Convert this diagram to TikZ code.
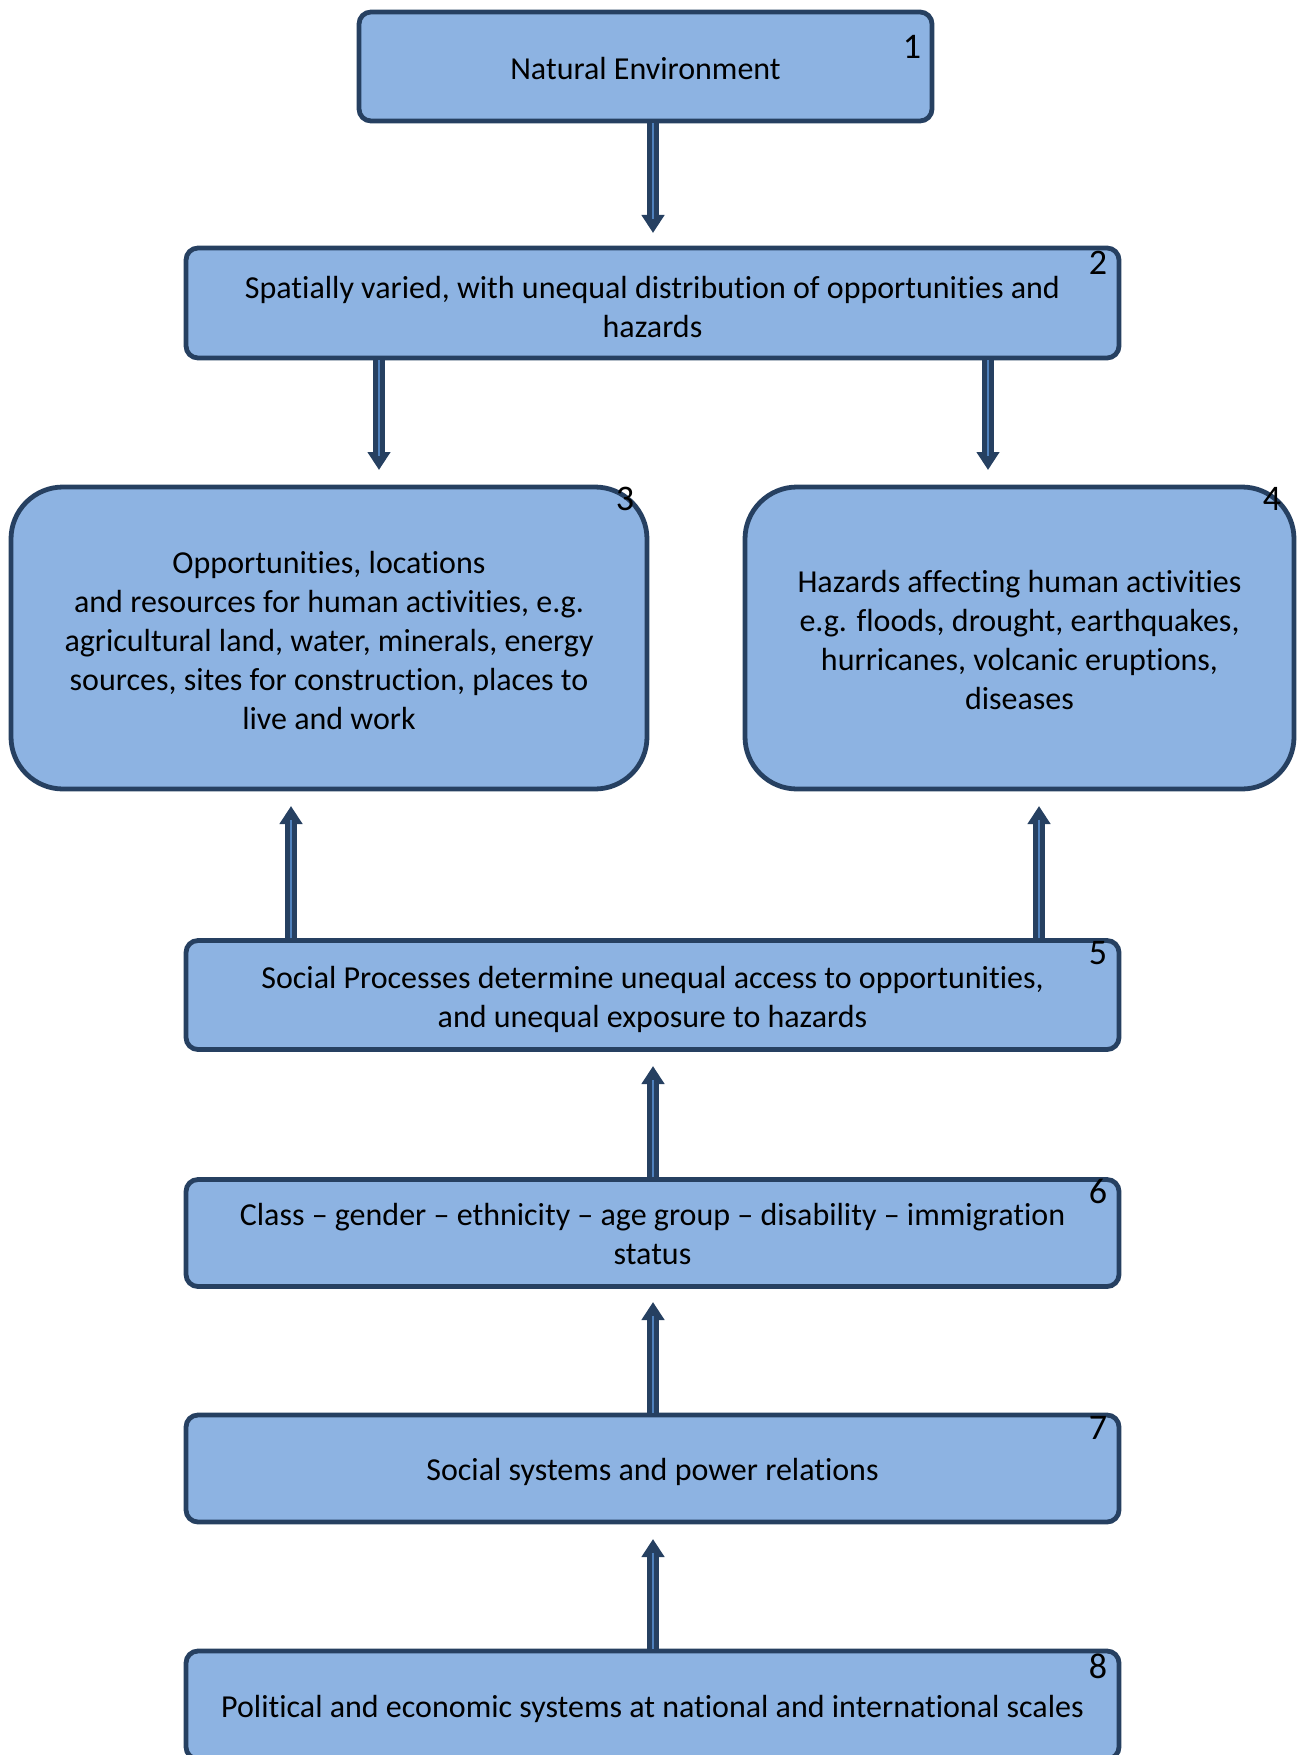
\documentclass[tikz,border=0pt]{standalone}
\usepackage{fontspec}
\setmainfont{Carlito}[RawFeature={-liga;-clig;-calt;-dlig}]
\usetikzlibrary{arrows.meta,calc}
\definecolor{boxfill}{RGB}{141,179,226}
\definecolor{boxline}{RGB}{38,64,97}
\definecolor{inner}{RGB}{79,129,189}
\begin{document}
\begin{tikzpicture}[x=0.5pt,y=-0.5pt,
  box/.style={draw=boxline, line width=2.4pt, fill=boxfill, rounded corners=6pt, inner sep=0pt},
  bigbox/.style={box, rounded corners=26pt},
  txt/.style={align=center, font=\fontsize{16}{19.5}\selectfont, inner sep=0pt},
  num/.style={font=\fontsize{18}{20}\selectfont, inner sep=0pt},
  arr/.style={draw=boxline, line width=6pt, -{Triangle[width=11pt,length=9pt]}},
  innerline/.style={draw=inner, line width=0.7pt}]
\useasboundingbox (0,0) rectangle (1303,1755);
\clip (0,0) rectangle (1303,1755);

\node[box, minimum width=286.5pt, minimum height=54.5pt] (b1) at (645.5,66.5) {};
\node[box, minimum width=466.5pt, minimum height=55pt] (b2) at (652.5,303) {};
\node[bigbox, minimum width=318pt, minimum height=151pt] (b3) at (329,638) {};
\node[bigbox, minimum width=274.5pt, minimum height=151pt] (b4) at (1019.5,638) {};
\node[box, minimum width=466.5pt, minimum height=54.5pt] (b5) at (652.5,995) {};
\node[box, minimum width=466.5pt, minimum height=53.5pt] (b6) at (652.5,1233) {};
\node[box, minimum width=466.5pt, minimum height=53.5pt] (b7) at (652.5,1468.5) {};
\node[box, minimum width=466.5pt, minimum height=54pt] (b8) at (652.5,1705) {};

\node[txt] (l1) at ($(b1)+(0,2)$) {Natural Environment};
\node[txt] (l2) at ($(b2)+(0,4)$) {Spatially varied, with unequal distribution of opportunities and\\hazards};
\node[txt] (l3) at ($(b3)+(0,3)$) {Opportunities, locations\\and resources for human activities, e.g.\\agricultural land, water, minerals, energy\\sources, sites for construction, places to\\live and work};
\node[txt] (l4) at ($(b4)+(0,2)$) {Hazards affecting human activities\\e.g. floods, drought, earthquakes,\\hurricanes, volcanic eruptions,\\diseases};
\node[txt] (l5) at ($(b5)+(0,4)$) {Social Processes determine unequal access to opportunities,\\and unequal exposure to hazards};
\node[txt] (l6) at ($(b6)+(0,1)$) {Class -- gender -- ethnicity -- age group -- disability -- immigration\\status};
\node[txt] (l7) at ($(b7)+(0,3)$) {Social systems and power relations};
\node[txt] (l8) at ($(b8)+(0,4)$) {Political and economic systems at national and international scales};

\node[num] (n1) at (912,47) {1};
\node[num] (n2) at (1098,263) {2};
\node[num] (n3) at (625,499) {3};
\node[num] (n4) at (1272,499) {4};
\node[num] (n5) at (1098,953) {5};
\node[num] (n6) at (1098,1191) {6};
\node[num] (n7) at (1098,1428) {7};
\node[num] (n8) at (1098,1666) {8};

\coordinate (t2) at (653,233);
\coordinate (t3) at (379,470);
\coordinate (t4) at (988,470);
\coordinate (u3) at (291,806);
\coordinate (u4) at (1039,806);
\coordinate (u5) at (653,1066);
\coordinate (u6) at (653,1302);
\coordinate (u7) at (653,1539);

\draw[arr] (b1.south -| t2) -- (t2);
\draw[innerline] (b1.south -| t2) -- ($(t2)+(0,-14)$);
\draw[arr] (b2.south -| t3) -- (t3);
\draw[innerline] (b2.south -| t3) -- ($(t3)+(0,-14)$);
\draw[arr] (b2.south -| t4) -- (t4);
\draw[innerline] (b2.south -| t4) -- ($(t4)+(0,-14)$);
\draw[arr] (b5.north -| u3) -- (u3);
\draw[innerline] (b5.north -| u3) -- ($(u3)+(0,14)$);
\draw[arr] (b5.north -| u4) -- (u4);
\draw[innerline] (b5.north -| u4) -- ($(u4)+(0,14)$);
\draw[arr] (b6.north -| u5) -- (u5);
\draw[innerline] (b6.north -| u5) -- ($(u5)+(0,14)$);
\draw[arr] (b7.north -| u6) -- (u6);
\draw[innerline] (b7.north -| u6) -- ($(u6)+(0,14)$);
\draw[arr] (b8.north -| u7) -- (u7);
\draw[innerline] (b8.north -| u7) -- ($(u7)+(0,14)$);
\end{tikzpicture}
\end{document}
